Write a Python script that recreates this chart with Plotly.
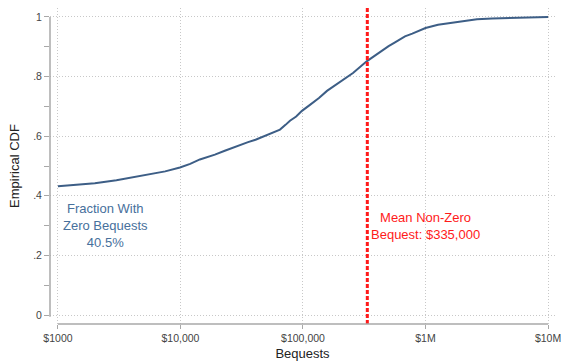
import plotly.graph_objects as go

# Empirical CDF of bequest amounts (log-scaled dollars)
bequests = [1000, 1500, 2000, 3000, 4000, 5000, 7500, 9900, 12000, 14400,
            17000, 19100, 23000, 26800, 31000, 35600, 41000, 47100, 55000,
            64900, 72000, 78300, 88000, 98100, 114000, 135000, 157000,
            200000, 256000, 333000, 425000, 500000, 564000, 680000, 780000,
            902000, 1000000, 1265000, 1600000, 1914000, 2630000, 3500000,
            4624000, 7000000, 10000000]
cdf = [0.432, 0.437, 0.442, 0.452, 0.461, 0.468, 0.482, 0.495, 0.507, 0.522,
       0.530, 0.538, 0.551, 0.562, 0.570, 0.580, 0.588, 0.598, 0.609,
       0.622, 0.638, 0.652, 0.666, 0.685, 0.705, 0.728, 0.752,
       0.782, 0.812, 0.852, 0.883, 0.902, 0.915, 0.935, 0.944,
       0.955, 0.963, 0.974, 0.980, 0.984, 0.992, 0.995,
       0.997, 0.999, 1.000]

mean_nonzero = 335000
frac_zero = 40.5

x_ticks = [1000, 10000, 100000, 1000000, 10000000]
x_ticklabels = ["$1000", "$10,000", "$100,000", "$1M", "$10M"]
y_ticks = [0, 0.2, 0.4, 0.6, 0.8, 1.0]
y_ticklabels = ["0", ".2", ".4", ".6", ".8", "1"]

FONT = "Liberation Sans, Arial, sans-serif"
CURVE = "#3d5e86"
RED = "#ff1a1a"
AXIS = "#a8a8a8"
GRID = "#c8c8c8"
Y_LO, Y_HI = -0.03, 1.03

fig = go.Figure()

fig.add_trace(go.Scatter(
    x=bequests, y=cdf, mode="lines",
    line=dict(color=CURVE, width=2),
    hoverinfo="skip", showlegend=False,
))

# vertical marker at the mean non-zero bequest
fig.add_trace(go.Scatter(
    x=[mean_nonzero, mean_nonzero], y=[Y_LO, Y_HI], mode="lines",
    line=dict(color=RED, width=3, dash="4px,2px"),
    hoverinfo="skip", showlegend=False,
))

fig.add_annotation(
    x=3.384, y=0.30, xref="x", yref="y",
    text=f"Fraction With<br>Zero Bequests<br>{frac_zero}%",
    showarrow=False, align="center",
    font=dict(family=FONT, size=13, color="#47709c"),
)
fig.add_annotation(
    x=6.0, y=0.30, xref="x", yref="y",
    text=f"Mean Non-Zero<br>Bequest: ${mean_nonzero:,}",
    showarrow=False, align="center",
    font=dict(family=FONT, size=13, color=RED),
)

# axis lines spanning only the labelled range
fig.add_shape(type="line", xref="paper", yref="y", x0=0, x1=0,
              y0=-0.006, y1=1.0, line=dict(color=AXIS, width=1.5))
fig.add_shape(type="line", xref="x", yref="paper", x0=x_ticks[0], x1=x_ticks[-1],
              y0=0, y1=0, line=dict(color=AXIS, width=1.5))

fig.update_layout(
    width=561, height=364,
    margin=dict(l=50, r=6, t=8, b=40),
    paper_bgcolor="white", plot_bgcolor="white",
    font=dict(family=FONT, color="#333333"),
    xaxis=dict(
        type="log", range=[2.935, 7.057], automargin=False,
        tickvals=x_ticks, ticktext=x_ticklabels,
        tickfont=dict(size=10.5, color="#444444"),
        ticklabeloverflow="allow",
        ticks="outside", ticklen=4, tickcolor=AXIS, tickwidth=1,
        showline=False,
        showgrid=True, gridcolor=GRID, gridwidth=1, griddash="1px,2px",
        zeroline=False,
        title=dict(text="Bequests", font=dict(size=13, color="#222222"), standoff=6),
    ),
    yaxis=dict(
        range=[Y_LO, Y_HI], automargin=False,
        tickvals=y_ticks, ticktext=y_ticklabels,
        tickfont=dict(size=10.5, color="#444444"),
        ticks="outside", ticklen=5, tickcolor=AXIS, tickwidth=1,
        minor=dict(dtick=0.1, tick0=0.1, ticks="outside", ticklen=5,
                   tickcolor=AXIS, showgrid=False),
        showline=False,
        showgrid=True, gridcolor=GRID, gridwidth=1, griddash="1px,2px",
        zeroline=False,
        title=dict(text="Empirical CDF", font=dict(size=13, color="#222222"), standoff=10),
    ),
)

fig.write_html("out.html")
